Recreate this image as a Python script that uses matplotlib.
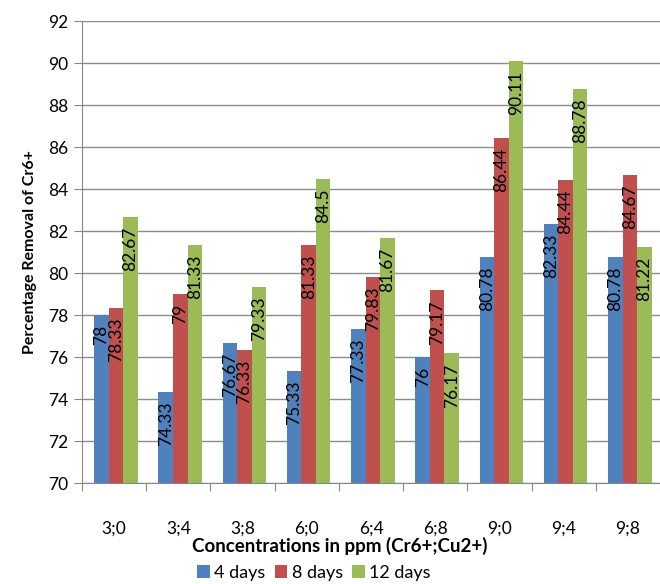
import numpy as np
import matplotlib
matplotlib.use("Agg")
from matplotlib import pyplot as plt

# data
categories = ["3;0", "3;4", "3;8", "6;0", "6;4", "6;8", "9;0", "9;4", "9;8"]
days_4 = [78, 74.33, 76.67, 75.33, 77.33, 76, 80.78, 82.33, 80.78]
days_8 = [78.33, 79, 76.33, 81.33, 79.83, 79.17, 86.44, 84.44, 84.67]
days_12 = [82.67, 81.33, 79.33, 84.5, 81.67, 76.17, 90.11, 88.78, 81.22]
series_names = ["4 days", "8 days", "12 days"]
y_ticks = list(range(70, 93, 2))

colors = ["#4F81BD", "#C0504D", "#9BBB59"]
plt.rcParams['font.family'] = ['Lato', 'DejaVu Sans']

fig = plt.figure(figsize=(6.6, 5.84), dpi=100)
ax = fig.add_axes([82 / 660, 1 - 483 / 584, 578 / 660, 462 / 584])

x = np.arange(len(categories))
w = 0.226
for k, vals in enumerate([days_4, days_8, days_12]):
    pos = x + (k - 1) * w + 0.03
    bars = ax.bar(pos, np.array(vals) - 70, width=w, bottom=70, color=colors[k],
                  label=series_names[k], zorder=2)
    for xp, v in zip(pos, vals):
        ax.annotate(f"{v:g}", (xp, v), xytext=(0, -7), textcoords="offset points",
                    rotation=90, ha="center", va="top", fontsize=12.5, zorder=3)

ax.set_ylim(70, 92)
ax.set_xlim(-0.5, len(categories) - 0.5)
ax.set_yticks(y_ticks)
ax.tick_params(axis="y", labelsize=12.5, length=6, color="#868686", pad=4)
ax.set_xticks(np.arange(len(categories) + 1) - 0.5, minor=False)
ax.set_xticklabels([])
ax.set_xticks(x, minor=True)
ax.set_xticklabels(categories, minor=True)
ax.tick_params(axis="x", which="major", length=6, color="#868686")
ax.tick_params(axis="x", which="minor", length=0, labelsize=12.5, pad=27)

ax.grid(axis="y", color="#8c8c8c", linewidth=1, zorder=0)
for s in ["top", "right"]:
    ax.spines[s].set_visible(False)
for s in ["left", "bottom"]:
    ax.spines[s].set_color("#868686")

ax.set_ylabel("Percentage Removal of Cr6+", fontsize=11.5, fontweight="bold", labelpad=8)
ax.set_xlabel("Concentrations in ppm (Cr6+;Cu2+)", fontsize=13.5, fontweight="bold", labelpad=0)
ax.xaxis.label.set_x((340 - 82) / 578)

fig.legend(*ax.get_legend_handles_labels(), loc="center", bbox_to_anchor=(314 / 660, 1 - 573 / 584),
           ncol=3, frameon=False, fontsize=13, handlelength=0.7, handleheight=0.7,
           handletextpad=0.25, columnspacing=0.5, borderpad=0.0)

fig.savefig("out.png", dpi=100)
